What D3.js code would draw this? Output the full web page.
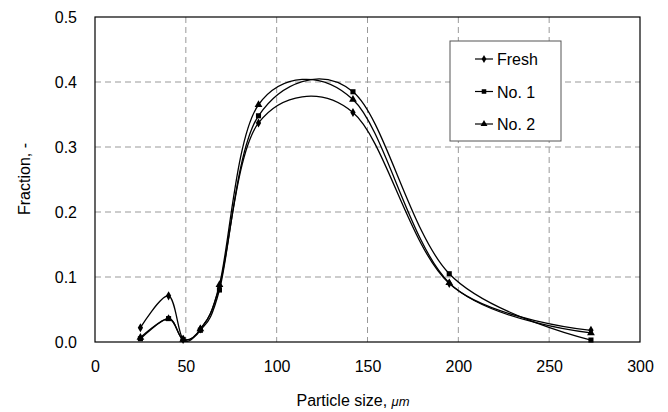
<!DOCTYPE html>
<html><head><meta charset="utf-8">
<script src="https://cdn.jsdelivr.net/npm/d3@7"></script>
<style>body{margin:0;background:#fff}svg{display:block}text{font-family:"Liberation Sans",Arial,sans-serif;fill:#000}</style>
</head><body>
<svg id="c" width="668" height="412"></svg>
<script>
const sizes = [25, 40.5, 48.5, 58, 68.5, 90, 142, 195, 273];
const fresh = [0.022, 0.071, 0.004, 0.020, 0.085, 0.337, 0.353, 0.090, 0.018];
const no1   = [0.005, 0.036, 0.004, 0.018, 0.080, 0.348, 0.385, 0.105, 0.003];
const no2   = [0.007, 0.036, 0.004, 0.020, 0.088, 0.365, 0.373, 0.091, 0.014];
const seriesNames = ["Fresh", "No. 1", "No. 2"];
const xTicks = [0, 50, 100, 150, 200, 250, 300];
const yTicks = [0, 0.1, 0.2, 0.3, 0.4, 0.5];

const svg = d3.select("#c");
const L = 95, R = 640, T = 17, B = 342;
const x = d3.scaleLinear().domain([0, 300]).range([L, R]);
const y = d3.scaleLinear().domain([0, 0.5]).range([B, T]);

// grid
svg.append("g").selectAll("line").data(xTicks.filter(d => d > 0 && d < 300)).join("line")
  .attr("x1", d => x(d)).attr("x2", d => x(d)).attr("y1", T).attr("y2", B)
  .attr("stroke", "#999").attr("stroke-width", 1).attr("stroke-dasharray", "6,4");
svg.append("g").selectAll("line").data(yTicks.filter(d => d > 0 && d < 0.5)).join("line")
  .attr("x1", L).attr("x2", R).attr("y1", d => y(d)).attr("y2", d => y(d))
  .attr("stroke", "#999").attr("stroke-width", 1).attr("stroke-dasharray", "6,4");

// frame
svg.append("rect").attr("x", L).attr("y", T).attr("width", R - L).attr("height", B - T)
  .attr("fill", "none").attr("stroke", "#000").attr("stroke-width", 1.2);

// axes
const xa = svg.append("g").attr("transform", `translate(0,${B})`)
  .call(d3.axisBottom(x).tickValues(xTicks).tickSize(0).tickPadding(19).tickFormat(d3.format("d")));
const ya = svg.append("g").attr("transform", `translate(${L},0)`)
  .call(d3.axisLeft(y).tickValues(yTicks).tickSize(0).tickPadding(18).tickFormat(d3.format(".1f")));
[xa, ya].forEach(a => { a.select(".domain").remove(); a.selectAll("text").attr("font-size", 16).style("font-family", '"Liberation Sans",Arial,sans-serif').attr("fill", "#000"); });

// titles
svg.append("text").attr("x", 353).attr("y", 406).attr("text-anchor", "middle").attr("font-size", 16)
  .html('Particle size, <tspan font-style="italic" font-size="13">μm</tspan>');
svg.append("text").attr("transform", "translate(30,179) rotate(-90)").attr("text-anchor", "middle")
  .attr("font-size", 16).text("Fraction, -");

// series
const allData = [fresh, no1, no2];
const markers = [d3.symbolDiamond, d3.symbolSquare, d3.symbolTriangle];
const msize = [24, 26, 26];
const line = d3.line().x(d => x(d[0])).y(d => y(d[1])).curve(d3.curveCardinal.tension(0));
allData.forEach((vals, i) => {
  const pts = sizes.map((s, j) => [s, vals[j]]);
  svg.append("path").datum(pts).attr("d", line).attr("fill", "none").attr("stroke", "#000").attr("stroke-width", 1.3);
  svg.append("g").selectAll("path").data(pts).join("path")
    .attr("transform", d => `translate(${x(d[0])},${y(d[1])})`)
    .attr("d", d3.symbol().type(markers[i]).size(msize[i])).attr("fill", "#000");
});

// legend
const lg = svg.append("g");
lg.append("rect").attr("x", 450).attr("y", 41).attr("width", 111).attr("height", 100)
  .attr("fill", "#fff").attr("stroke", "#555").attr("stroke-width", 1);
seriesNames.forEach((n, i) => {
  const cy = 59 + i * 32.5;
  lg.append("line").attr("x1", 475).attr("x2", 493).attr("y1", cy).attr("y2", cy).attr("stroke", "#000").attr("stroke-width", 1.2);
  lg.append("path").attr("transform", `translate(484,${cy})`).attr("d", d3.symbol().type(markers[i]).size(msize[i] * 0.8)).attr("fill", "#000");
  lg.append("text").attr("x", 497).attr("y", cy + 6).attr("font-size", 16).text(n);
});
</script>
</body></html>
